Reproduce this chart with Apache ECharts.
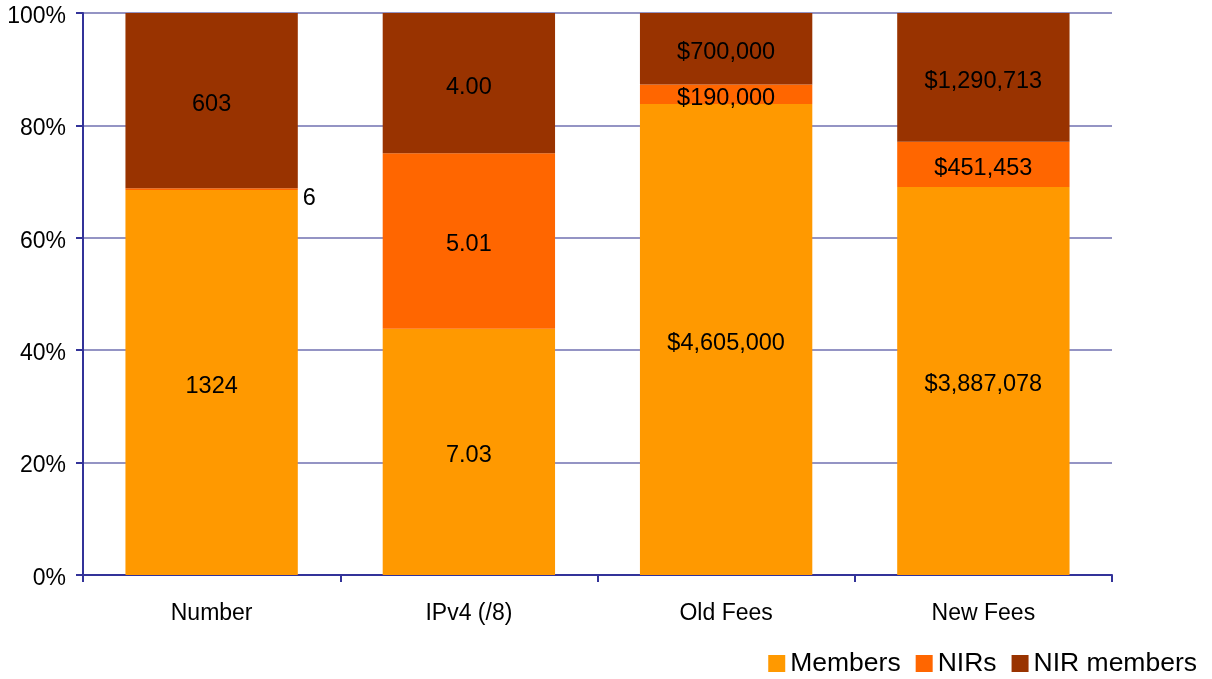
<!DOCTYPE html>
<html>
<head>
<meta charset="utf-8">
<script src="https://cdn.jsdelivr.net/npm/echarts@6/dist/echarts.min.js"></script>
<style>
  html, body { margin: 0; padding: 0; background: #fff; }
  #chart { width: 1212px; height: 679px; }
</style>
</head>
<body>
<div id="chart"></div>
<script>
  // categories and raw values (bars are drawn as share of each column)
  var categories = ['Number', 'IPv4 (/8)', 'Old Fees', 'New Fees']
  var members = [1324, 7.03, 4605000, 3887078]
  var nirs = [6, 5.01, 190000, 451453]
  var nirMembers = [603, 4.00, 700000, 1290713]
  var yTicks = [0, 20, 40, 60, 80, 100]

  var totals = categories.map(function (c, i) {
    return members[i] + nirs[i] + nirMembers[i]
  })

  // how each column prints its numbers
  function fmt(v, i) {
    if (i === 0) return String(v)
    if (i === 1) return v.toFixed(2)
    return '$' + v.toLocaleString('en-US')
  }

  function toPct(arr) {
    return arr.map(function (v, i) {
      return { value: v / totals[i] * 100, raw: v }
    })
  }

  var font = 'Liberation Sans, Arial, sans-serif'
  var chart = echarts.init(document.getElementById('chart'))

  function seriesOf(name, arr, color) {
    return {
      name: name,
      type: 'bar',
      stack: 'all',
      barCategoryGap: '33%',
      data: toPct(arr),
      itemStyle: { color: color },
      label: {
        show: true,
        position: 'inside',
        offset: [0, 4],
        color: '#000',
        fontFamily: font,
        fontSize: 23.5,
        formatter: function (p) { return fmt(p.data.raw, p.dataIndex) }
      }
    }
  }

  var nirSeries = seriesOf('NIRs', nirs, '#ff6600')
  // the tiny NIR slice in the first column is labelled beside the bar
  nirSeries.data[0].label = { position: 'right', offset: [0, 9] }

  chart.setOption({
    animation: false,
    grid: { left: 83, right: 100, top: 13, bottom: 104 },
    legend: {
      right: 10,
      bottom: -3,
      icon: 'rect',
      itemWidth: 17,
      itemHeight: 17,
      itemGap: 15,
      itemStyle: { borderWidth: 0 },
      textStyle: { fontFamily: font, fontSize: 26.5, color: '#000' },
      data: ['Members', 'NIRs', 'NIR members']
    },
    xAxis: {
      type: 'category',
      data: categories,
      axisLine: { lineStyle: { color: '#333399', width: 2 } },
      axisTick: { show: true, length: 7, lineStyle: { color: '#333399', width: 2 } },
      axisLabel: { color: '#000', fontFamily: font, fontSize: 23, margin: 27 }
    },
    yAxis: {
      type: 'value',
      min: yTicks[0],
      max: yTicks[yTicks.length - 1],
      interval: 20,
      axisLine: { show: true, lineStyle: { color: '#333399', width: 2 } },
      axisTick: { show: true, length: 7, lineStyle: { color: '#333399', width: 2 } },
      splitLine: { lineStyle: { color: '#7070b0', width: 1.5 } },
      axisLabel: {
        color: '#000',
        margin: 17,
        formatter: '{p|{value}%}',
        rich: {
          // labels sit a little under their grid line
          p: { fontFamily: font, fontSize: 23, color: '#000', padding: [7, 0, 0, 0] }
        }
      }
    },
    series: [
      seriesOf('Members', members, '#ff9900'),
      nirSeries,
      seriesOf('NIR members', nirMembers, '#993300')
    ]
  })
</script>
</body>
</html>
